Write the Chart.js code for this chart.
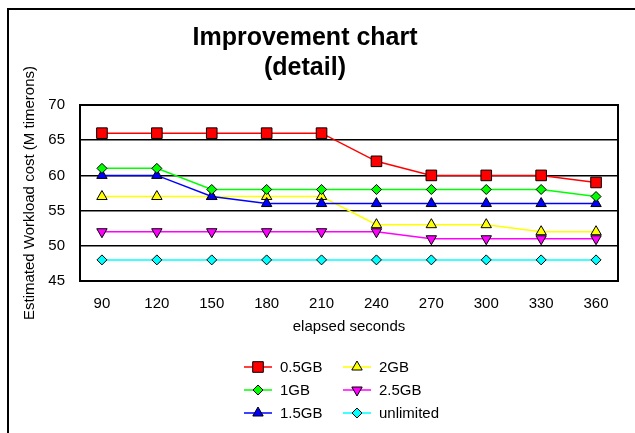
<!DOCTYPE html>
<html>
<head>
<meta charset="utf-8">
<title>Improvement chart</title>
<script src="https://cdn.jsdelivr.net/npm/chart.js"></script>
<style>
    html, body { margin: 0; padding: 0; background: #fff; overflow: hidden; }
    #moldura {
        position: absolute; left: 7px; top: 8px; width: 700px; height: 500px;
        border-left: 2px solid #000; border-top: 2px solid #000;
    }
    #grafico { position: absolute; left: 0; top: 0; }
</style>
</head>
<body>
<div id="moldura"></div>
<canvas id="grafico" width="635" height="433"></canvas>
<script>
const seconds = [90, 120, 150, 180, 210, 240, 270, 300, 330, 360];
const seriesNames = ["0.5GB", "1GB", "1.5GB", "2GB", "2.5GB", "unlimited"];
const cost05GB = [66, 66, 66, 66, 66, 62, 60, 60, 60, 59];
const cost1GB = [61, 61, 58, 58, 58, 58, 58, 58, 58, 57];
const cost15GB = [60, 60, 57, 56, 56, 56, 56, 56, 56, 56];
const cost2GB = [57, 57, 57, 57, 57, 53, 53, 53, 52, 52];
const cost25GB = [52, 52, 52, 52, 52, 52, 51, 51, 51, 51];
const costUnlimited = [48, 48, 48, 48, 48, 48, 48, 48, 48, 48];
const yTicks = [45, 50, 55, 60, 65, 70];

const fonte = "Arial, 'Liberation Sans', sans-serif";

function serie(label, valores, cor, estilo, raio, rotacao) {
    return {
        label: label,
        data: valores.map((v, i) => ({ x: seconds[i], y: v })),
        borderColor: cor,
        backgroundColor: cor,
        borderWidth: 1.5,
        pointStyle: estilo,
        pointRadius: raio,
        pointHoverRadius: raio,
        pointRotation: rotacao || 0,
        pointBackgroundColor: cor,
        pointBorderColor: "#000",
        pointBorderWidth: 1,
        tension: 0,
    };
}

const datasets = [
    serie(seriesNames[0], cost05GB, "#ff0000", "rect", 7.5),
    serie(seriesNames[1], cost1GB, "#00ff00", "rectRot", 5),
    serie(seriesNames[2], cost15GB, "#0000ff", "triangle", 6),
    serie(seriesNames[3], cost2GB, "#ffff00", "triangle", 6),
    serie(seriesNames[4], cost25GB, "#ff00ff", "triangle", 6, 180),
    serie(seriesNames[5], costUnlimited, "#00ffff", "rectRot", 5),
];

// titulo, moldura da area e legenda em duas colunas
const extras = {
    id: "extras",
    beforeDatasetsDraw(chart) {
        const ctx = chart.ctx;
        const a = chart.chartArea;
        ctx.save();
        ctx.strokeStyle = "#000";
        ctx.lineWidth = 2;
        ctx.strokeRect(a.left, a.top, a.right - a.left, a.bottom - a.top);
        ctx.restore();
    },
    afterDraw(chart) {
        const ctx = chart.ctx;
        ctx.save();
        ctx.fillStyle = "#000";
        ctx.textAlign = "center";
        ctx.textBaseline = "alphabetic";
        ctx.font = "bold 25px " + fonte;
        ctx.fillText("Improvement chart", 305, 45);
        ctx.fillText("(detail)", 305, 75);

        const colunas = [244, 343];
        const linhas = [367, 390, 413];
        ctx.font = "15px " + fonte;
        ctx.textAlign = "left";
        ctx.textBaseline = "middle";
        chart.data.datasets.forEach((ds, i) => {
            const x = colunas[Math.floor(i / 3)];
            const y = linhas[i % 3];
            ctx.strokeStyle = ds.borderColor;
            ctx.lineWidth = 1.5;
            ctx.beginPath();
            ctx.moveTo(x, y);
            ctx.lineTo(x + 28, y);
            ctx.stroke();
            ctx.fillStyle = ds.pointBackgroundColor;
            ctx.strokeStyle = ds.pointBorderColor;
            ctx.lineWidth = ds.pointBorderWidth;
            Chart.helpers.drawPoint(ctx, {
                pointStyle: ds.pointStyle,
                radius: ds.pointRadius,
                rotation: ds.pointRotation,
                borderWidth: ds.pointBorderWidth,
            }, x + 14, y);
            ctx.fillStyle = "#000";
            ctx.fillText(ds.label, x + 36, y + 1);
        });
        ctx.restore();
    },
};

new Chart(document.getElementById("grafico"), {
    type: "line",
    data: { datasets: datasets },
    options: {
        responsive: false,
        animation: false,
        devicePixelRatio: 1,
        layout: { padding: { left: 0, right: 17, top: 105, bottom: 92 } },
        plugins: {
            legend: { display: false },
            title: { display: false },
            tooltip: { enabled: false },
        },
        scales: {
            x: {
                type: "linear",
                min: 78,
                max: 372,
                afterBuildTicks: (scale) => {
                    scale.ticks = seconds.map((s) => ({ value: s }));
                },
                afterFit: (scale) => { scale.height = 60; },
                grid: { display: false, drawTicks: false },
                border: { display: false },
                ticks: {
                    color: "#000",
                    font: { family: fonte, size: 15 },
                    padding: 14,
                    maxRotation: 0,
                    autoSkip: false,
                },
                title: {
                    display: true,
                    text: "elapsed seconds",
                    color: "#000",
                    font: { family: fonte, size: 15 },
                    padding: { top: 0, bottom: 5 },
                },
            },
            y: {
                min: 45,
                max: 70,
                afterBuildTicks: (scale) => {
                    scale.ticks = yTicks.map((v) => ({ value: v }));
                },
                afterFit: (scale) => { scale.width = 80; },
                grid: { color: "#000", lineWidth: 1.5, drawTicks: false },
                border: { display: false },
                ticks: {
                    color: "#000",
                    font: { family: fonte, size: 15 },
                    padding: 15,
                },
                title: {
                    display: true,
                    text: "Estimated Workload cost (M timerons)",
                    color: "#000",
                    font: { family: fonte, size: 15 },
                    padding: { top: 21, bottom: 0 },
                },
            },
        },
    },
    plugins: [extras],
});
</script>
</body>
</html>
